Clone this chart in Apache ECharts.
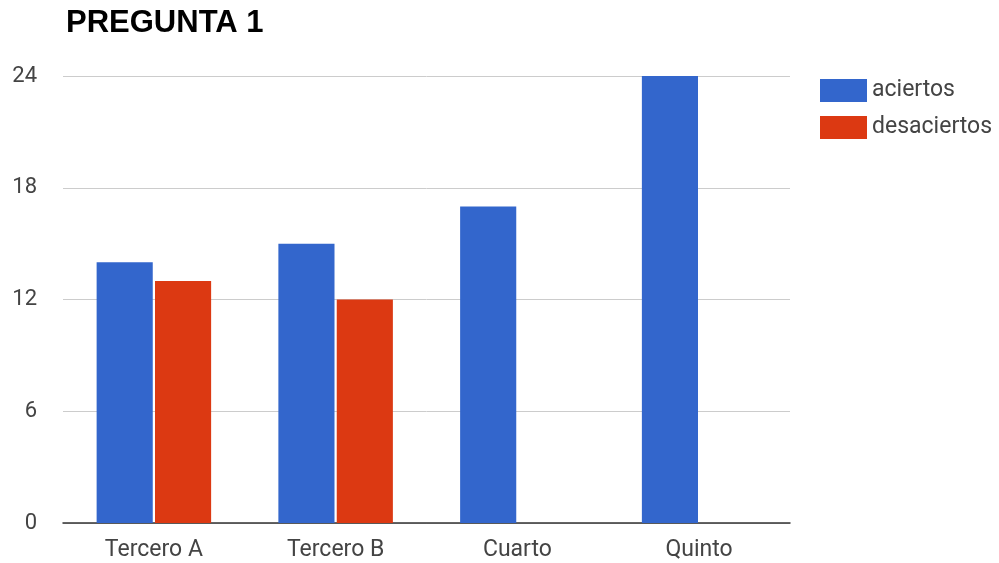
<!DOCTYPE html>
<html>
<head>
<meta charset="utf-8">
<script src="https://cdn.jsdelivr.net/npm/echarts@6/dist/echarts.min.js"></script>
<style>
  html, body { margin: 0; padding: 0; background: #fff; }
  #chart { width: 999px; height: 563px; }
</style>
</head>
<body>
<div id="chart"></div>
<script>
const categories = ['Tercero A', 'Tercero B', 'Cuarto', 'Quinto'];
const aciertos = [14, 15, 17, 24];
const desaciertos = [13, 12, null, null];

document.addEventListener('DOMContentLoaded', () => {
    const myChart = echarts.init(document.getElementById('chart'));
    const labelFont = { fontFamily: 'Roboto, Arial, sans-serif', fontSize: 23, color: '#444' };
    const option = {
        animation: false,
        title: {
            text: 'PREGUNTA 1',
            left: 61,
            top: 3,
            textStyle: { fontFamily: 'Liberation Sans, Arial, sans-serif', fontSize: 31, fontWeight: 'bold', color: '#000' }
        },
        legend: {
            orient: 'vertical',
            left: 815,
            top: 74,
            itemWidth: 47,
            itemHeight: 23,
            itemGap: 14,
            icon: 'rect',
            textStyle: Object.assign({}, labelFont, { lineHeight: 23 }),
            data: ['aciertos', 'desaciertos']
        },
        grid: { left: 63, right: 209, top: 76, bottom: 40 },
        xAxis: {
            type: 'category',
            data: categories,
            axisTick: { show: false },
            axisLine: { lineStyle: { color: '#333', width: 1.5 } },
            axisLabel: Object.assign({}, labelFont, { margin: 16 })
        },
        yAxis: {
            type: 'value',
            min: 0,
            max: 24,
            interval: 6,
            axisLine: { show: false },
            axisTick: { show: false },
            splitLine: { lineStyle: { color: '#ccc' } },
            axisLabel: Object.assign({}, labelFont, { fontSize: 22, margin: 26 })
        },
        series: [
            {
                name: 'aciertos',
                type: 'bar',
                data: aciertos,
                barGap: '4%',
                barCategoryGap: '37%',
                itemStyle: { color: '#3366cc' }
            },
            {
                name: 'desaciertos',
                type: 'bar',
                data: desaciertos,
                itemStyle: { color: '#dc3912' }
            }
        ]
    };
    myChart.setOption(option);
    window.addEventListener('resize', () => myChart.resize());
});
</script>
</body>
</html>
